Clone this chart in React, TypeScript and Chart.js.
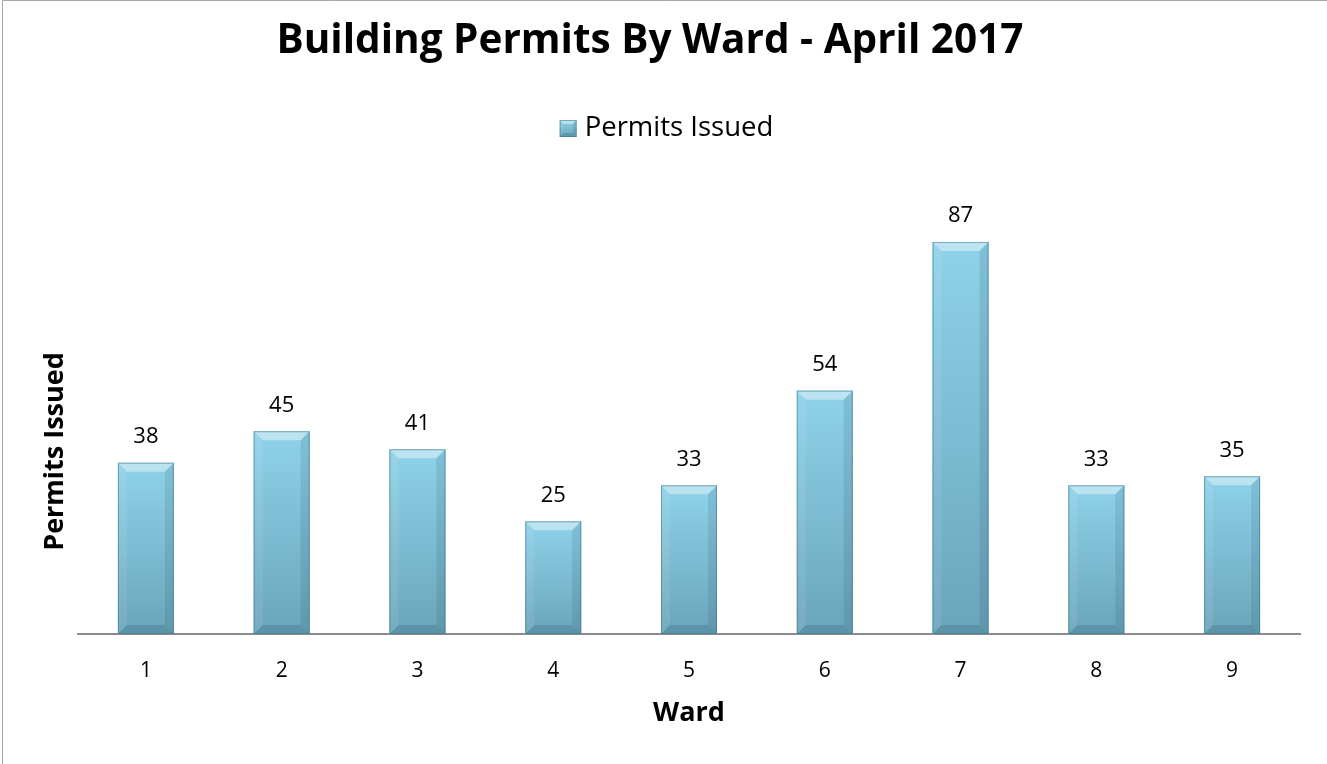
import React, { useEffect, useRef } from "react";
import { Chart, registerables } from "chart.js";

Chart.register(...registerables);

const wards = ["1", "2", "3", "4", "5", "6", "7", "8", "9"];
const permitsIssued = [38, 45, 41, 25, 33, 54, 87, 33, 35];
const seriesName = "Permits Issued";
const titleText = "Building Permits By Ward - April 2017";
const xAxisTitle = "Ward";
const yAxisTitle = "Permits Issued";
const yMin = 0;
const yMax = 100;

const FONT = "'Open Sans', 'DejaVu Sans', sans-serif";

function bevelRect(ctx: CanvasRenderingContext2D, l: number, t: number, w: number, h: number, bevel: number) {
  const r = l + w;
  const b = t + h;
  const bv = Math.min(bevel, w / 4, h / 2);
  const g = ctx.createLinearGradient(0, t, 0, b);
  g.addColorStop(0, "#8fd2e9");
  g.addColorStop(1, "#6aa5ba");
  ctx.fillStyle = g;
  ctx.fillRect(l, t, w, h);
  const poly = (pts: number[][], fill: string) => {
    ctx.beginPath();
    ctx.moveTo(pts[0][0], pts[0][1]);
    for (let k = 1; k < pts.length; k++) ctx.lineTo(pts[k][0], pts[k][1]);
    ctx.closePath();
    ctx.fillStyle = fill;
    ctx.fill();
  };
  poly([[l, t], [r, t], [r - bv, t + bv], [l + bv, t + bv]], "rgba(255,255,255,0.40)");
  poly([[l, t], [l + bv, t + bv], [l + bv, b - bv], [l, b]], "rgba(255,255,255,0.08)");
  poly([[r, t], [r, b], [r - bv, b - bv], [r - bv, t + bv]], "rgba(0,40,60,0.10)");
  poly([[l, b], [l + bv, b - bv], [r - bv, b - bv], [r, b]], "rgba(0,40,60,0.14)");
  ctx.strokeStyle = "rgba(60,110,130,0.5)";
  ctx.lineWidth = 1;
  ctx.strokeRect(l + 0.5, t + 0.5, w - 1, h - 1);
}

export default function App() {
  const ref = useRef<HTMLCanvasElement>(null);

  useEffect(() => {
    document.body.style.margin = "0";
    const canvas = ref.current!;

    const framePlugin = {
      id: "frame",
      beforeDraw(chart: any) {
        const { ctx, width, height } = chart;
        ctx.save();
        ctx.fillStyle = "#ffffff";
        ctx.fillRect(0, 0, width, height);
        ctx.strokeStyle = "#a6a6a6";
        ctx.lineWidth = 1;
        ctx.beginPath();
        ctx.moveTo(2.5, height);
        ctx.lineTo(2.5, 0.5);
        ctx.lineTo(width, 0.5);
        ctx.stroke();
        ctx.restore();
      },
    };

    const bevelPlugin = {
      id: "bevel",
      afterDatasetsDraw(chart: any) {
        const ctx = chart.ctx;
        const meta = chart.getDatasetMeta(0);
        meta.data.forEach((bar: any, i: number) => {
          const { x, y, base, width } = bar.getProps(["x", "y", "base", "width"], true);
          const t = Math.min(y, base);
          const b = Math.max(y, base);
          ctx.save();
          bevelRect(ctx, x - width / 2, t, width, b - t, 9);
          ctx.fillStyle = "#000000";
          ctx.font = `22px ${FONT}`;
          ctx.textAlign = "center";
          ctx.textBaseline = "alphabetic";
          ctx.fillText(String(permitsIssued[i]), x, t - 19.5);
          ctx.restore();
        });
      },
    };

    const legendPlugin = {
      id: "customLegend",
      afterDraw(chart: any) {
        const ctx = chart.ctx;
        ctx.save();
        ctx.font = `27.5px ${FONT}`;
        const tw = ctx.measureText(seriesName).width;
        const box = 17;
        const gap = 8;
        const total = box + gap + tw;
        const left = chart.width / 2 + 3 - total / 2;
        bevelRect(ctx, left, 120, box, box, 4);
        ctx.fillStyle = "#000000";
        ctx.textAlign = "left";
        ctx.textBaseline = "alphabetic";
        ctx.fillText(seriesName, left + box + gap, 136);
        ctx.restore();
      },
    };

    const yTitlePlugin = {
      id: "yTitle",
      afterDraw(chart: any) {
        const ctx = chart.ctx;
        ctx.save();
        ctx.translate(63, 451.5);
        ctx.rotate(-Math.PI / 2);
        ctx.fillStyle = "#000000";
        ctx.font = `bold 27px ${FONT}`;
        ctx.textAlign = "center";
        ctx.textBaseline = "alphabetic";
        ctx.fillText(yAxisTitle, 0, 0);
        ctx.restore();
      },
    };

    const chart = new Chart(canvas, {
      type: "bar",
      data: {
        labels: wards,
        datasets: [
          {
            label: seriesName,
            data: permitsIssued,
            backgroundColor: "#7fc1d8",
            borderWidth: 0,
            barPercentage: 0.412,
            categoryPercentage: 1,
          },
        ],
      },
      options: {
        responsive: false,
        animation: false,
        layout: { padding: { left: 0, right: 27, top: 0, bottom: 0 } },
        plugins: {
          title: {
            display: true,
            text: titleText,
            color: "#000000",
            font: { family: FONT, size: 40.5, weight: "bold", lineHeight: 1.2 },
            padding: { top: 17, bottom: 117.8 },
          },
          legend: { display: false },
          tooltip: { enabled: false },
        },
        scales: {
          x: {
            grid: { display: false, drawTicks: false },
            border: { display: true, color: "#8c8c8c", width: 2 },
            ticks: { color: "#000000", font: { family: FONT, size: 21 }, padding: 24 },
            title: {
              display: true,
              text: xAxisTitle,
              color: "#000000",
              font: { family: FONT, size: 27, weight: "bold" },
              padding: { top: 0, bottom: 34 },
            },
            afterFit(s: any) {
              s.height = 130;
            },
          },
          y: {
            min: yMin,
            max: yMax,
            grid: { display: false, drawTicks: false },
            border: { display: false },
            ticks: { display: false },
            title: { display: false },
            afterFit(s: any) {
              s.width = 78;
            },
          },
        },
      },
      plugins: [framePlugin, bevelPlugin, legendPlugin, yTitlePlugin],
    } as any);

    return () => chart.destroy();
  }, []);

  return (
    <div style={{ width: 1327, height: 764 }}>
      <canvas ref={ref} width={1327} height={764} style={{ display: "block" }} />
    </div>
  );
}
